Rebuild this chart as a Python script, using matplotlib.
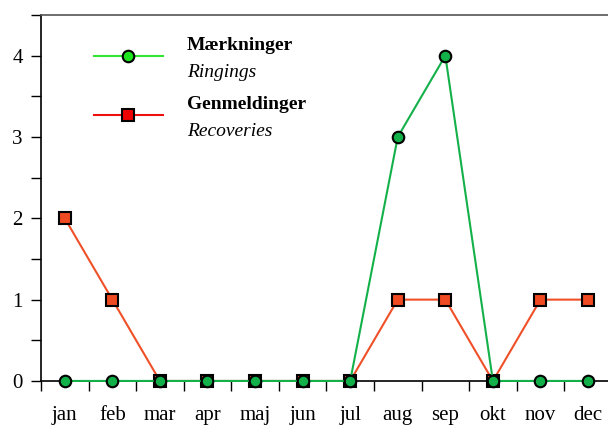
import matplotlib

matplotlib.use("Agg")
import matplotlib.pyplot as plt
from matplotlib.lines import Line2D
from matplotlib.ticker import MultipleLocator

months = ["jan", "feb", "mar", "apr", "maj", "jun", "jul", "aug", "sep", "okt", "nov", "dec"]
ringings = [0, 0, 0, 0, 0, 0, 0, 3, 4, 0, 0, 0]
recoveries = [2, 1, 0, 0, 0, 0, 0, 1, 1, 0, 1, 1]

plt.rcParams["font.family"] = ["Liberation Serif", "DejaVu Serif"]

fig = plt.figure(figsize=(6.08, 4.29), dpi=100)
ax = fig.add_axes([0.0674, 0.112, 0.935, 0.853])

x = list(range(len(months)))
ax.plot(x, recoveries, color="#f05028", lw=1.5, marker="s", ms=8.3,
        mfc="#f04a22", mec="black", mew=1.5, zorder=3, clip_on=False)
ax.plot(x, ringings, color="#14b04a", lw=1.5, marker="o", ms=8.3,
        mfc="#12b048", mec="black", mew=1.5, zorder=4, clip_on=False)

ax.set_xlim(-0.48, 11.45)
ax.set_ylim(0, 4.5)

# month boundaries carry the tick marks, labels sit at the month centres
ax.set_xticks([i - 0.5 for i in x], minor=False)
ax.set_xticklabels([])
ax.set_xticks(x, minor=True)
ax.set_xticklabels(months, minor=True)
ax.tick_params(axis="x", which="major", direction="out", length=7, width=1)
ax.tick_params(axis="x", which="minor", length=0, pad=18, labelsize=15)

ax.yaxis.set_major_locator(MultipleLocator(1))
ax.yaxis.set_minor_locator(MultipleLocator(0.5))
ax.tick_params(axis="y", which="both", direction="out", length=7, width=1,
               pad=6, labelsize=15)

ax.spines["right"].set_visible(False)
ax.spines["top"].set_color("#555555")
ax.spines["top"].set_linewidth(1.2)
for s in ["left", "bottom"]:
    ax.spines[s].set_color("black")
    ax.spines[s].set_linewidth(1.2)

# hand-made legend
leg = [
    ("Mærkninger", "Ringings", "#33e633", "#1ee61e", "o", 0.888),
    ("Genmeldinger", "Recoveries", "#ee1010", "#ee0000", "s", 0.727),
]
for bold, ital, lc, fc, mk, yy in leg:
    ax.add_line(Line2D([0.093, 0.215], [yy, yy], transform=ax.transAxes,
                       color=lc, lw=1.5, clip_on=False))
    ax.add_line(Line2D([0.153], [yy], transform=ax.transAxes, marker=mk,
                       ms=8.3, mfc=fc, mec="black", mew=1.5, clip_on=False))
    ax.text(0.257, yy + 0.029, bold, transform=ax.transAxes, fontsize=14,
            fontweight="bold", va="center", ha="left")
    ax.text(0.257, yy - 0.044, ital, transform=ax.transAxes, fontsize=14,
            style="italic", va="center", ha="left")

fig.savefig("out.png", dpi=100)
